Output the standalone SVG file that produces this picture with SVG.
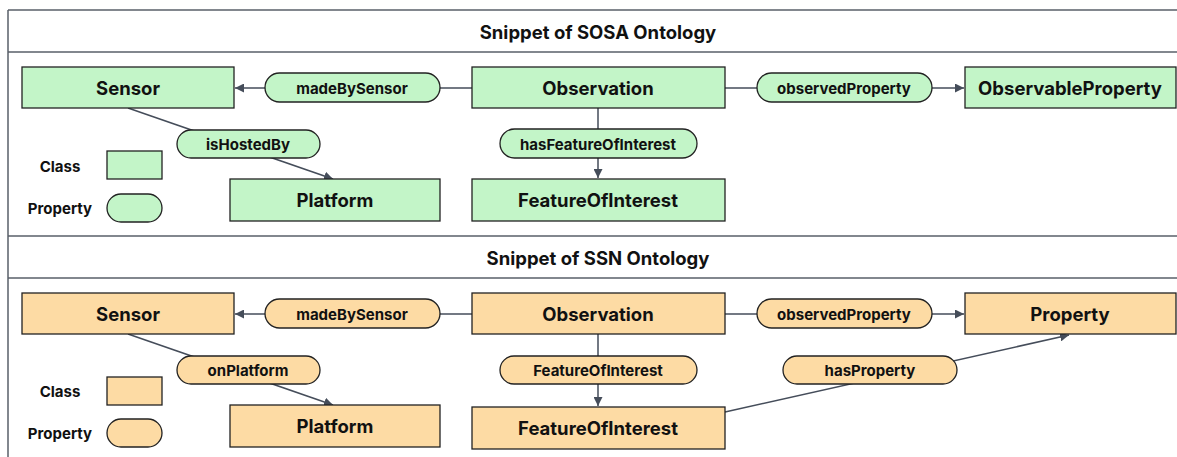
<svg xmlns="http://www.w3.org/2000/svg" width="1177" height="457" viewBox="0 0 1177 457">
<style>
text{font-family:Inter,"Liberation Sans",sans-serif;fill:#111;text-anchor:middle;dominant-baseline:central}
.cls{stroke:#222;stroke-width:1.3}
.g{fill:#c3f5c8}
.o{fill:#fddba4}
.cl{font-size:18.5px;font-weight:700}
.pl{font-size:15px;font-weight:700}
.ttl{font-size:18.5px;font-weight:700}
.lg{font-size:15px;font-weight:700}
.frame{stroke:#5a6069;stroke-width:1.5;fill:none}
.conn{stroke:#454d5a;stroke-width:1.5;fill:none}
</style>
<defs>
<marker id="arr" viewBox="0 0 10 10" refX="10" refY="5" markerWidth="9" markerHeight="9" markerUnits="userSpaceOnUse" orient="auto">
<path d="M0,0 L10,5 L0,10 z" fill="#454d5a"/>
</marker>
</defs>
<rect width="1177" height="457" fill="#fff"/>
<g id="frame">
<path class="frame" d="M8,10 H1177 M8,52 H1177 M8,236 H1177 M8,278 H1177 M8,10 V457"/>
<text class="ttl" x="598" y="32">Snippet of SOSA Ontology</text>
<text class="ttl" x="598" y="258">Snippet of SSN Ontology</text>
</g>
<g id="connectors">
<line class="conn" x1="472" y1="88" x2="235" y2="88" marker-end="url(#arr)"/>
<line class="conn" x1="725" y1="88" x2="964" y2="88" marker-end="url(#arr)"/>
<line class="conn" x1="598" y1="108" x2="598" y2="178" marker-end="url(#arr)"/>
<line class="conn" x1="128" y1="108" x2="333" y2="179" marker-end="url(#arr)"/>
<line class="conn" x1="472" y1="314" x2="235" y2="314" marker-end="url(#arr)"/>
<line class="conn" x1="725" y1="314" x2="964" y2="314" marker-end="url(#arr)"/>
<line class="conn" x1="598" y1="334" x2="598" y2="406" marker-end="url(#arr)"/>
<line class="conn" x1="128" y1="334" x2="333" y2="405" marker-end="url(#arr)"/>
<line class="conn" x1="725" y1="412" x2="1069" y2="335" marker-end="url(#arr)"/>
</g>
<g id="sosa-sensor"><rect class="cls g" x="22" y="67" width="212" height="41"/><text class="cl" x="128" y="88">Sensor</text></g>
<g id="sosa-madeBySensor"><rect class="cls g" x="265" y="73" width="175" height="29" rx="14.5"/><text class="pl" x="352" y="88">madeBySensor</text></g>
<g id="sosa-observation"><rect class="cls g" x="472" y="67" width="253" height="41"/><text class="cl" x="598" y="88">Observation</text></g>
<g id="sosa-observedProperty"><rect class="cls g" x="757" y="73" width="175" height="29" rx="14.5"/><text class="pl" x="844" y="88">observedProperty</text></g>
<g id="sosa-observableProperty"><rect class="cls g" x="965" y="67" width="211" height="41"/><text class="cl" x="1070" y="88">ObservableProperty</text></g>
<g id="sosa-isHostedBy"><rect class="cls g" x="177" y="130" width="143" height="28" rx="14"/><text class="pl" x="248" y="144">isHostedBy</text></g>
<g id="sosa-hasFeatureOfInterest"><rect class="cls g" x="500" y="129" width="197" height="29" rx="14.5"/><text class="pl" x="598" y="144">hasFeatureOfInterest</text></g>
<g id="sosa-platform"><rect class="cls g" x="230" y="179" width="210" height="42"/><text class="cl" x="335" y="200">Platform</text></g>
<g id="sosa-featureOfInterest"><rect class="cls g" x="472" y="179" width="253" height="42"/><text class="cl" x="598" y="200">FeatureOfInterest</text></g>
<g id="sosa-legend">
<text class="lg" x="60" y="166">Class</text><rect class="cls g" x="107" y="151" width="55" height="28"/>
<text class="lg" x="60" y="208">Property</text><rect class="cls g" x="107" y="194" width="55" height="28" rx="14"/>
</g>
<g id="ssn-sensor"><rect class="cls o" x="22" y="293" width="212" height="41"/><text class="cl" x="128" y="314">Sensor</text></g>
<g id="ssn-madeBySensor"><rect class="cls o" x="265" y="299" width="175" height="29" rx="14.5"/><text class="pl" x="352" y="314">madeBySensor</text></g>
<g id="ssn-observation"><rect class="cls o" x="472" y="293" width="253" height="41"/><text class="cl" x="598" y="314">Observation</text></g>
<g id="ssn-observedProperty"><rect class="cls o" x="757" y="299" width="175" height="29" rx="14.5"/><text class="pl" x="844" y="314">observedProperty</text></g>
<g id="ssn-property"><rect class="cls o" x="965" y="293" width="211" height="41"/><text class="cl" x="1070" y="314">Property</text></g>
<g id="ssn-onPlatform"><rect class="cls o" x="177" y="356" width="143" height="28" rx="14"/><text class="pl" x="248" y="370">onPlatform</text></g>
<g id="ssn-featureOfInterestProp"><rect class="cls o" x="500" y="356" width="197" height="28" rx="14"/><text class="pl" x="598" y="370">FeatureOfInterest</text></g>
<g id="ssn-hasProperty"><rect class="cls o" x="783" y="356" width="174" height="28" rx="14"/><text class="pl" x="870" y="370">hasProperty</text></g>
<g id="ssn-platform"><rect class="cls o" x="230" y="405" width="210" height="42"/><text class="cl" x="335" y="426">Platform</text></g>
<g id="ssn-featureOfInterest"><rect class="cls o" x="472" y="407" width="253" height="42"/><text class="cl" x="598" y="428">FeatureOfInterest</text></g>
<g id="ssn-legend">
<text class="lg" x="60" y="391">Class</text><rect class="cls o" x="107" y="377" width="55" height="28"/>
<text class="lg" x="60" y="433">Property</text><rect class="cls o" x="107" y="419" width="55" height="28" rx="14"/>
</g>
</svg>
